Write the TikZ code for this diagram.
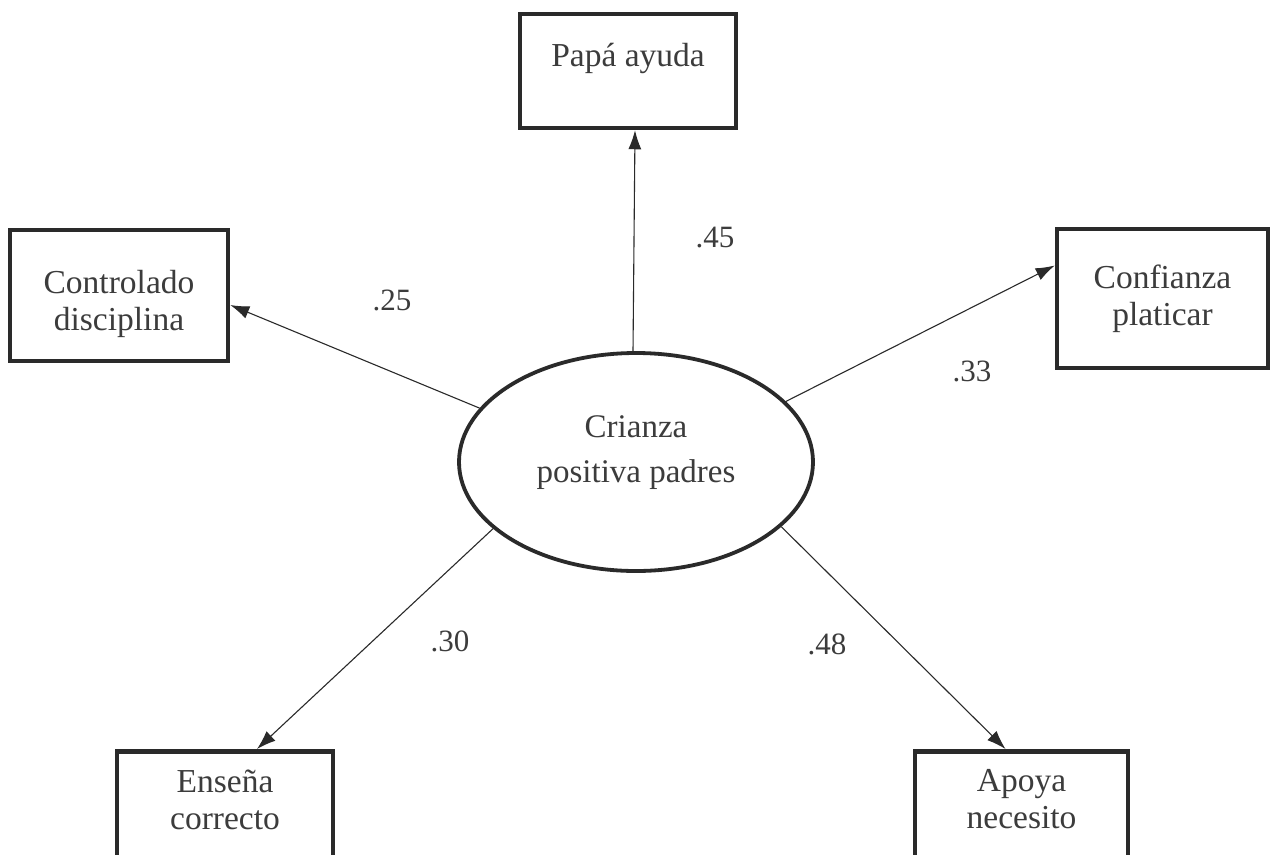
\documentclass[tikz,border=0pt]{standalone}
\usepackage{fontspec}
\setmainfont{Liberation Serif}
\usetikzlibrary{shapes.geometric,arrows.meta}
\definecolor{ink}{HTML}{2A2A2A}
\definecolor{txt}{HTML}{3C3C3C}
\begin{document}
\begin{tikzpicture}[x=1pt,y=-1pt,
  varbox/.style={draw=ink,line width=4.5pt,rectangle,inner sep=0pt,
    minimum width=#1,text=txt,align=center,
    font=\fontsize{33.5}{37}\selectfont},
  latent/.style={draw=ink,line width=3.8pt,ellipse,inner sep=0pt,
    minimum width=354pt,minimum height=218pt,text=txt,align=center,
    font=\fontsize{33}{45}\selectfont},
  path/.style={draw=ink,line width=1.1pt,
    -{Latex[length=19pt,width=13pt]}},
  coef/.style={text=txt,font=\fontsize{31}{34}\selectfont,inner sep=0pt}]
\useasboundingbox (0,0) rectangle (1271,854);
\fill[white] (0,0) rectangle (1271,854);

% latent construct
\node[latent] (crianza) at (636,462) {Crianza\\positiva padres\\[-19pt]\mbox{}};

% indicator boxes
\node[varbox=216pt,minimum height=114pt] (papa) at (628,71)
  {Papá ayuda\\[-4pt]\mbox{}};
\node[varbox=218pt,minimum height=131pt] (ctrl) at (119,295.5)
  {\rule{0pt}{40pt}Controlado\\disciplina};
\node[varbox=211pt,minimum height=139pt] (conf) at (1162.5,298.5)
  {Confianza\\platicar};
\node[varbox=216pt,minimum height=131pt,anchor=north] (ens) at (225,749)
  {Enseña\\correcto\\[-2pt]\mbox{}};
\node[varbox=213pt,minimum height=131pt,anchor=north] (apo) at (1021.5,749)
  {Apoya\\necesito\\[-2pt]\mbox{}};

% loadings
\draw[path] ([xshift=-3pt]crianza.north) -- ([xshift=7pt]papa.south);
\draw[path] (crianza.161) -- ([yshift=-9.5pt]ctrl.east);
\draw[path] (crianza.22) -- ([yshift=33pt]conf.west);
\draw[path] (crianza.205) -- ([xshift=32pt]ens.north);
\draw[path] (crianza.336) -- ([xshift=-16pt]apo.north);

% loading values
\node[coef] (l45) at (715,238) {.45};
\node[coef] (l25) at (392,300) {.25};
\node[coef] (l33) at (972,371) {.33};
\node[coef] (l30) at (450,641) {.30};
\node[coef] (l48) at (827,644) {.48};
\end{tikzpicture}
\end{document}
